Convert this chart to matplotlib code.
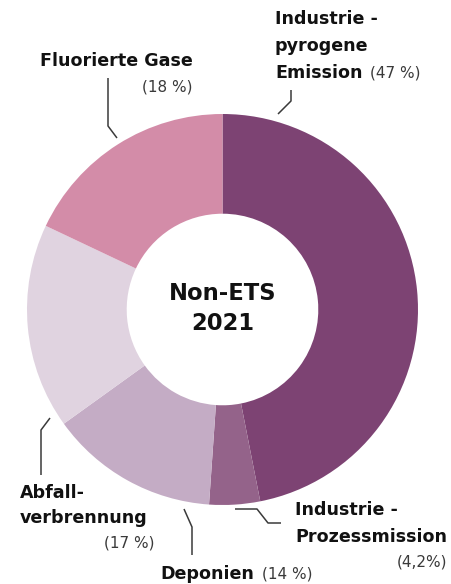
import matplotlib
matplotlib.use("Agg")
import matplotlib.pyplot as plt

# ---- data ----
categories = ["Industrie - pyrogene Emission", "Industrie - Prozessmission",
              "Deponien", "Abfallverbrennung", "Fluorierte Gase"]
values = [47, 4.2, 14, 17, 18]
pct_labels = ["(47 %)", "(4,2%)", "(14 %)", "(17 %)", "(18 %)"]
colors = ["#7D4373", "#94638A", "#C4ACC5", "#E0D3E0", "#D38CA8"]
center_lines = ["Non-ETS", "2021"]

W, H = 451, 584
fig = plt.figure(figsize=(W / 100, H / 100), dpi=100)
ax = fig.add_axes([0, 0, 1, 1])

def Y(y):
    return H - y

cx, cy, R = 222.5, 309.5, 195.5
ax.pie(values, colors=colors, startangle=90, counterclock=False,
       center=(cx, Y(cy)), radius=R, frame=True,
       wedgeprops=dict(width=R * 0.51, linewidth=0))
ax.set_xlim(0, W)
ax.set_ylim(0, H)
ax.set_aspect("equal")
ax.axis("off")

FONT = "DejaVu Sans"
bold = dict(family=FONT, fontweight="bold", fontsize=12.6, color="#111111")
light = dict(family=FONT, fontweight="normal", fontsize=11, color="#3a3a3a")

ax.text(cx, Y(293), center_lines[0], ha="center", va="center",
        family=FONT, fontweight="bold", fontsize=16.3, color="#111111")
ax.text(cx, Y(323), center_lines[1], ha="center", va="center",
        family=FONT, fontweight="bold", fontsize=16.3, color="#111111")

# Fluorierte Gase
ax.text(40, Y(61), "Fluorierte Gase", ha="left", va="center", **bold)
ax.text(193, Y(87), pct_labels[4], ha="right", va="center", **light)
# Industrie - pyrogene Emission
ax.text(275, Y(19), "Industrie -", ha="left", va="center", **bold)
ax.text(275, Y(46), "pyrogene", ha="left", va="center", **bold)
ax.text(275, Y(73), "Emission", ha="left", va="center", **bold)
ax.text(420, Y(73), pct_labels[0], ha="right", va="center", **light)
# Abfallverbrennung
ax.text(20, Y(493), "Abfall-", ha="left", va="center", **bold)
ax.text(20, Y(518), "verbrennung", ha="left", va="center", **bold)
ax.text(155, Y(543), pct_labels[3], ha="right", va="center", **light)
# Deponien
ax.text(160, Y(574), "Deponien", ha="left", va="center", **bold)
ax.text(313, Y(574), pct_labels[2], ha="right", va="center", **light)
# Industrie - Prozessmission
ax.text(295, Y(510), "Industrie -", ha="left", va="center", **bold)
ax.text(295, Y(537), "Prozessmission", ha="left", va="center", **bold)
ax.text(447, Y(562), pct_labels[1], ha="right", va="center", **light)

lc = dict(color="#3a3a3a", linewidth=1.1, solid_capstyle="butt")
ax.plot([108, 108, 117], [Y(78), Y(126), Y(138)], **lc)
ax.plot([291, 291, 278], [Y(90), Y(101), Y(114)], **lc)
ax.plot([41, 41, 50], [Y(475), Y(430), Y(418)], **lc)
ax.plot([192, 192, 184], [Y(555), Y(527), Y(509)], **lc)
ax.plot([235, 257, 268, 281], [Y(509), Y(509), Y(523), Y(523)], **lc)

fig.savefig("out.png", dpi=100)
